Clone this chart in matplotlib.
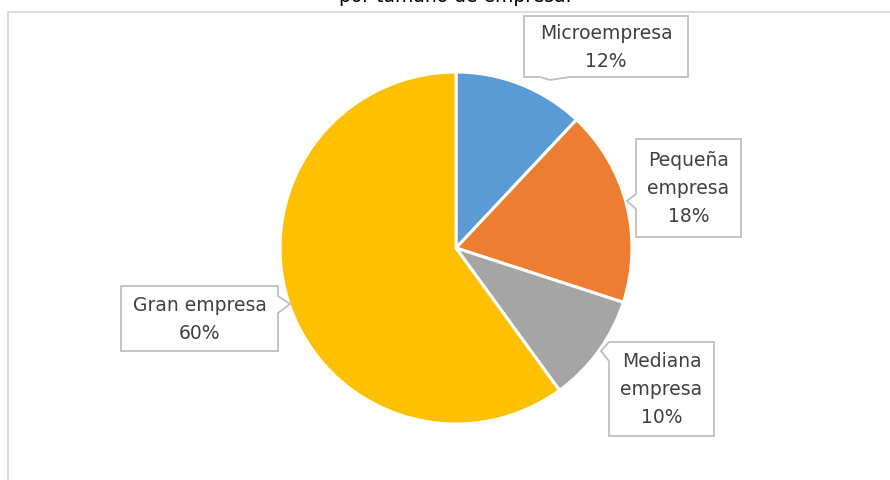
import matplotlib
matplotlib.use("Agg")
import matplotlib.pyplot as plt
from matplotlib.patches import Polygon

labels = ["Microempresa", "Pequeña\nempresa", "Mediana\nempresa", "Gran empresa"]
shares = [12, 18, 10, 60]
colors = ["#5B9BD5", "#ED7D31", "#A5A5A5", "#FFC000"]
title = "por tamaño de empresa."

W, H = 890, 481
fig = plt.figure(figsize=(W / 100, H / 100), dpi=100)
ax = fig.add_axes([0, 0, 1, 1])

# pie: y axis is flipped, so counterclock=True reads clockwise on screen
cx, cy, r = 456, 249, 176
ax.pie(shares, colors=colors, startangle=-90, counterclock=True,
       center=(cx, cy), radius=r, frame=True,
       wedgeprops=dict(edgecolor="white", linewidth=2.2))
ax.set_xlim(0, W)
ax.set_ylim(H, 0)
ax.axis("off")

# chart frame (cut off at right and bottom)
ax.plot([8, 8, W + 10], [H + 10, 13, 13], color="#D9D9D9", lw=1.3,
        solid_joinstyle="miter")


def callout(box, tip, side, text):
    x0, y0, x1, y1 = box
    tx, ty, a, b = tip
    if side == "left":
        pts = [(x0, y0), (x1, y0), (x1, y1), (x0, y1), (x0, b), (tx, ty), (x0, a)]
    elif side == "right":
        pts = [(x0, y0), (x1, y0), (x1, a), (tx, ty), (x1, b), (x1, y1), (x0, y1)]
    else:  # bottom
        pts = [(x0, y0), (x1, y0), (x1, y1), (b, y1), (tx, ty), (a, y1), (x0, y1)]
    ax.add_patch(Polygon(pts, closed=True, fc="white", ec="#BFBFBF", lw=1.3, zorder=5))
    ax.text((x0 + x1) / 2, (y0 + y1) / 2, text, ha="center", va="center",
            fontsize=13.5, color="#404040", linespacing=1.6, zorder=6)


callout((524, 17, 688, 78), (550, 81, 540, 570), "bottom",
        labels[0] + "\n" + f"{shares[0]}%")
callout((636, 140, 741, 238), (627, 202, 195, 210), "left",
        labels[1] + "\n" + f"{shares[1]}%")
callout((609, 343, 714, 437), (601, 352, 343, 362), "left",
        labels[2] + "\n" + f"{shares[2]}%")
callout((121, 287, 278, 352), (290, 305, 297, 314), "right",
        labels[3] + "\n" + f"{shares[3]}%")

ax.text(455, -4, title, ha="center", va="center", fontsize=13.5,
        color="#000000", clip_on=False)

fig.savefig("out.png", dpi=100)
